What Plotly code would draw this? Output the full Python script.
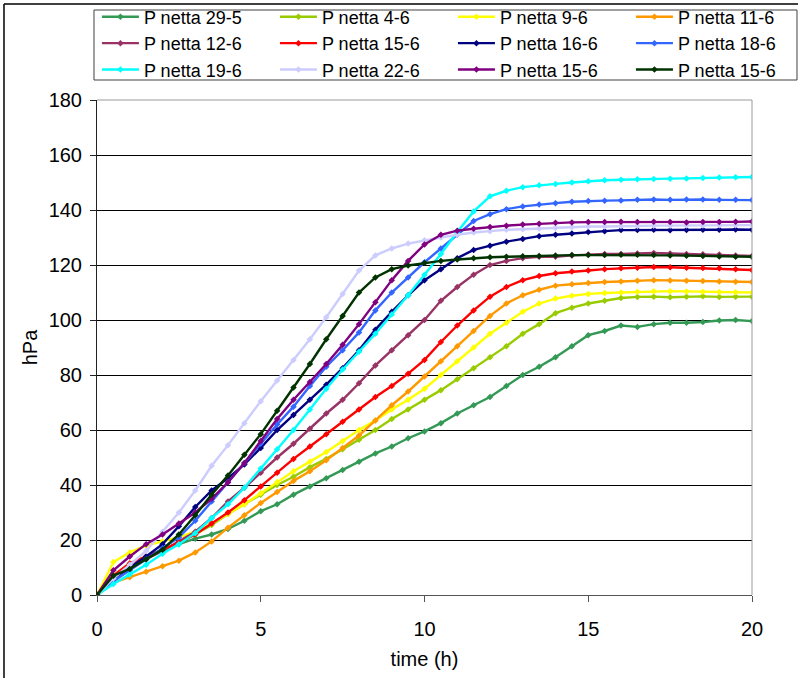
import plotly.graph_objects as go

time_h = [0, 0.5, 1, 1.5, 2, 2.5, 3, 3.5, 4, 4.5, 5, 5.5, 6, 6.5, 7, 7.5, 8, 8.5, 9, 9.5,
          10, 10.5, 11, 11.5, 12, 12.5, 13, 13.5, 14, 14.5, 15, 15.5, 16, 16.5, 17, 17.5,
          18, 18.5, 19, 19.5, 20]

p_29_5 = [0, 5, 10, 13.5, 16, 18.5, 20.5, 22, 24, 27, 30.5, 33, 36.5, 39.5, 42.5, 45.5, 48.5, 51.5, 54, 57,
          59.5, 62.5, 66, 69, 72, 76, 80, 83, 86.5, 90.5, 94.5, 96, 98, 97.5, 98.5, 99, 99, 99.3, 99.8, 100, 99.6]
p_4_6 = [0, 7, 11.5, 14, 16.5, 19, 22, 25.5, 29.5, 33, 36.5, 40, 43, 46.5, 49.5, 53, 56.5, 60, 64, 67.5,
         71, 74.5, 78.5, 82.5, 86.5, 90.5, 95, 98.5, 102.5, 104.5, 106, 107, 108, 108.4, 108.5, 108.3, 108.5, 108.6, 108.4, 108.5, 108.5]
p_9_6 = [0, 12, 15.5, 18, 19.5, 21, 23, 26, 29.5, 33, 37, 41, 45, 48.5, 52, 56, 60, 63.5, 67.5, 71,
         75, 80, 85, 90, 95, 99, 103, 106, 107.8, 108.8, 109.5, 109.8, 110, 110.3, 110.5, 110.5, 110.4, 110.3, 110.2, 110.1, 110]
p_11_6 = [0, 4.5, 6.5, 8.5, 10.5, 12.5, 15.5, 19.5, 24.5, 29, 33.5, 37.5, 41.5, 45, 49, 53.5, 58, 63.5, 69, 74,
          79.5, 85, 90.5, 96, 101.5, 106, 109, 111, 112.5, 113, 113.5, 113.8, 114, 114.3, 114.5, 114.4, 114.3, 114.2, 114, 113.9, 113.8]
p_12_6 = [0, 6, 10, 13, 16, 19.5, 23, 28, 34, 39, 44.5, 50, 55, 60.5, 66, 71, 77, 83.5, 89, 94.5,
          100, 107, 112, 116.5, 120, 121.5, 122.5, 123, 123, 123.5, 123.8, 124, 124, 124.2, 124.4, 124.2, 124, 123.9, 123.8, 123.5, 123.3]
p_15_6 = [0, 7, 11.5, 14, 16.5, 19, 22, 26, 30, 34.5, 39.5, 44.5, 49.5, 54, 58.5, 63, 67.5, 72, 76, 80.5,
          85.5, 92, 98, 103.5, 108.5, 112, 114.5, 116, 117, 117.6, 118, 118.5, 118.8, 119, 119.3, 119.2, 119, 118.9, 118.8, 118.5, 118.2]
p_16_6 = [0, 6, 10, 14, 18.5, 25, 32, 38, 42.5, 47.5, 53.5, 60, 65.5, 71, 76.5, 82.5, 89, 96.5, 103, 109,
          114.5, 118.5, 122.5, 125.5, 127, 128.5, 129.5, 130.5, 131, 131.5, 132, 132.3, 132.7, 132.7, 132.8, 132.6, 132.7, 132.8, 132.8, 132.9, 132.8]
p_18_6 = [0, 5, 9, 13, 17, 21, 27, 34, 41, 48, 55, 62, 68.5, 76, 83, 89, 95.5, 103.5, 110, 115.5,
          121, 126, 131, 136, 138.5, 140.3, 141.3, 142, 142.5, 143, 143.3, 143.4, 143.5, 143.7, 143.8, 143.7, 143.8, 143.8, 143.7, 143.7, 143.6]
p_19_6 = [0, 4, 7.5, 11, 15, 18.5, 22.5, 28, 33, 39, 46, 53, 60, 67.5, 75, 82, 88.5, 95, 102, 109,
          116.5, 124, 132, 139.5, 145, 147, 148.3, 149, 149.5, 150, 150.5, 150.8, 151, 151.2, 151.3, 151.4, 151.5, 151.6, 151.8, 151.9, 152]
p_22_6 = [0, 6, 11, 16, 23, 30, 38, 47, 54.5, 62.5, 70.5, 78, 85.5, 93, 101, 109.5, 118, 123.5, 126, 127.8,
          129, 130, 131, 131.8, 132.3, 132.8, 133, 133.3, 133.5, 133.7, 134, 134, 134.2, 134.2, 134.3, 134.3, 134.4, 134.4, 134.5, 134.5, 134.5]
p_15_6b = [0, 9, 14, 18.5, 22, 26, 30, 35, 41, 48, 56, 64, 71, 77.5, 84, 91, 98.5, 106.5, 114.5, 121.5,
           127.5, 131, 132.5, 133.2, 133.8, 134.3, 134.7, 135, 135.4, 135.5, 135.6, 135.6, 135.7, 135.6, 135.7, 135.6, 135.5, 135.6, 135.6, 135.7, 135.8]
p_15_6c = [0, 7, 9.5, 13, 16.5, 22, 29, 36.5, 43.5, 51, 58.5, 67, 75.5, 84, 93, 101.5, 110, 115.5, 118.5, 119.8,
           120.7, 121.5, 122, 122.5, 122.8, 123, 123.2, 123.3, 123.5, 123.6, 123.6, 123.6, 123.7, 123.7, 123.6, 123.5, 123.4, 123.3, 123.1, 123, 123]

series_names = ["P netta 29-5", "P netta 4-6", "P netta 9-6", "P netta 11-6",
                "P netta 12-6", "P netta 15-6", "P netta 16-6", "P netta 18-6",
                "P netta 19-6", "P netta 22-6", "P netta 15-6", "P netta 15-6"]
series_values = [p_29_5, p_4_6, p_9_6, p_11_6, p_12_6, p_15_6, p_16_6, p_18_6,
                 p_19_6, p_22_6, p_15_6b, p_15_6c]
series_colors = ["#339955", "#99CC00", "#FFFF00", "#FF9900",
                 "#993366", "#FF0000", "#000080", "#3366FF",
                 "#00FFFF", "#CCCCFF", "#800080", "#003300"]

y_ticks = [0, 20, 40, 60, 80, 100, 120, 140, 160, 180]
x_ticks = [0, 5, 10, 15, 20]

fig = go.Figure()
for name, vals, col in zip(series_names, series_values, series_colors):
    fig.add_trace(go.Scatter(
        x=time_h, y=vals, name=name, mode="lines+markers",
        line=dict(color=col, width=2.4),
        marker=dict(symbol="diamond", size=5, color=col),
    ))

FONT = "Liberation Sans, Arial, sans-serif"
fig.update_layout(
    width=798, height=678,
    margin=dict(l=97, r=46, t=100, b=83, autoexpand=False),
    paper_bgcolor="white", plot_bgcolor="white",
    font=dict(family=FONT, size=20, color="black"),
    showlegend=True,
    legend=dict(
        orientation="h", x=-0.0001, y=1.205, xanchor="left", yanchor="top",
        entrywidth=126, entrywidthmode="pixels",
        borderwidth=0, bgcolor="rgba(0,0,0,0)",
        font=dict(family=FONT, size=18, color="black"),
        itemwidth=37, tracegroupgap=0,
    ),
    xaxis=dict(
        range=[0, 20], tickvals=x_ticks, ticks="outside", ticklen=6,
        tickcolor="#555555", showline=True, linecolor="#555555", linewidth=1,
        showgrid=False, zeroline=False, ticklabelstandoff=10,
        tickfont=dict(size=20),
        title=dict(text="time (h)", font=dict(size=20), standoff=12),
    ),
    yaxis=dict(
        range=[0, 180], tickvals=y_ticks, ticks="outside", ticklen=6,
        tickcolor="#222222", showline=True, linecolor="#222222", linewidth=1,
        showgrid=True, gridcolor="#000000", gridwidth=1, zeroline=False,
        ticklabelstandoff=4, tickfont=dict(size=20),
        title=dict(text="hPa", font=dict(size=20), standoff=5),
    ),
    shapes=[
        # plot area border (top and right, grey)
        dict(type="line", xref="paper", yref="paper", x0=0, x1=1, y0=1, y1=1,
             line=dict(color="#9a9a9a", width=1), layer="above"),
        dict(type="line", xref="paper", yref="paper", x0=1, x1=1, y0=0, y1=1,
             line=dict(color="#9a9a9a", width=1), layer="above"),
        # legend frame
        dict(type="rect", xref="paper", yref="paper", x0=-0.0046, x1=1.0687, y0=1.0404, y1=1.1818,
             line=dict(color="#404040", width=1), fillcolor="white", layer="below"),
        # chart area frame (left and top)
        dict(type="line", xref="paper", yref="paper", x0=-0.142, x1=-0.142, y0=-0.2, y1=1.194,
             line=dict(color="black", width=1.5)),
        dict(type="line", xref="paper", yref="paper", x0=-0.142, x1=1.1, y0=1.194, y1=1.194,
             line=dict(color="black", width=1.5)),
    ],
)

fig.write_html("out.html")
